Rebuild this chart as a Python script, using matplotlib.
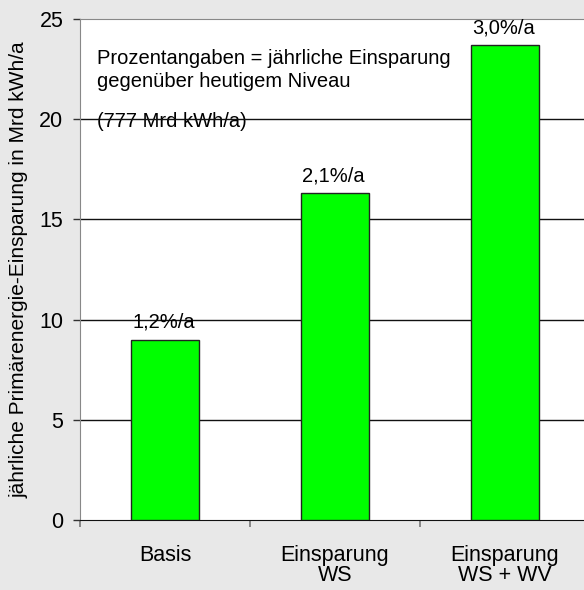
import numpy as np
import matplotlib.pyplot as plt

plt.rcParams['font.family'] = ['Liberation Sans', 'DejaVu Sans']

# data
categories = ['Basis', 'Einsparung\nWS', 'Einsparung\nWS + WV']
savings = [9.0, 16.3, 23.7]
rates = ['1,2%/a', '2,1%/a', '3,0%/a']

bg = '#E8E8E8'
fig = plt.figure(figsize=(5.84, 5.90), dpi=100, facecolor=bg)
ax = fig.add_axes([80/584, 70/590, 510/584, 501/590])
ax.set_facecolor('white')

x = np.arange(len(categories))
bars = ax.bar(x, savings, width=0.4, color='#00FF00', edgecolor='#222222', linewidth=1, zorder=3)
for bar, lab in zip(bars, rates):
    ax.annotate(lab, (bar.get_x() + bar.get_width()/2, bar.get_height()),
                xytext=(-1, 8.6), textcoords='offset points', ha='center', va='baseline',
                fontsize=14.5, zorder=4)

ax.set_xlim(-0.5, 2.5)
ax.set_ylim(0, 25)
ax.set_yticks([0, 5, 10, 15, 20, 25])
ax.tick_params(axis='y', length=5, width=1, color='#333333', labelsize=15.5, pad=7)
ax.set_xticks([-0.5, 0.5, 1.5], minor=False)
ax.set_xticklabels([])
ax.tick_params(axis='x', length=5, width=1.2, color='#777777')
ax.set_xticks(x, minor=True)
ax.set_xticklabels(categories, minor=True, fontsize=15.5, linespacing=0.95)
ax.tick_params(axis='x', which='minor', length=0, pad=18)

for yv in [5, 10, 15, 20]:
    ax.axhline(yv, color='#111111', linewidth=1, zorder=1)

ax.spines['top'].set_color('#888888')
ax.spines['left'].set_color('#888888')
ax.spines['right'].set_visible(False)
ax.spines['bottom'].set_color('#111111')

ax.set_ylabel('jährliche Primärenergie-Einsparung in Mrd kWh/a', fontsize=15, labelpad=8)

# explanatory note in the upper left
ax.text(-0.4, 22.75, 'Prozentangaben = jährliche Einsparung', ha='left', va='baseline', fontsize=14.5, zorder=2)
ax.text(-0.4, 21.6, 'gegenüber heutigem Niveau', ha='left', va='baseline', fontsize=14.5, zorder=2)
ax.text(-0.4, 19.6, '(777 Mrd kWh/a)', ha='left', va='baseline', fontsize=14.5, zorder=0)

plt.savefig('out.png', dpi=100, facecolor=bg)
